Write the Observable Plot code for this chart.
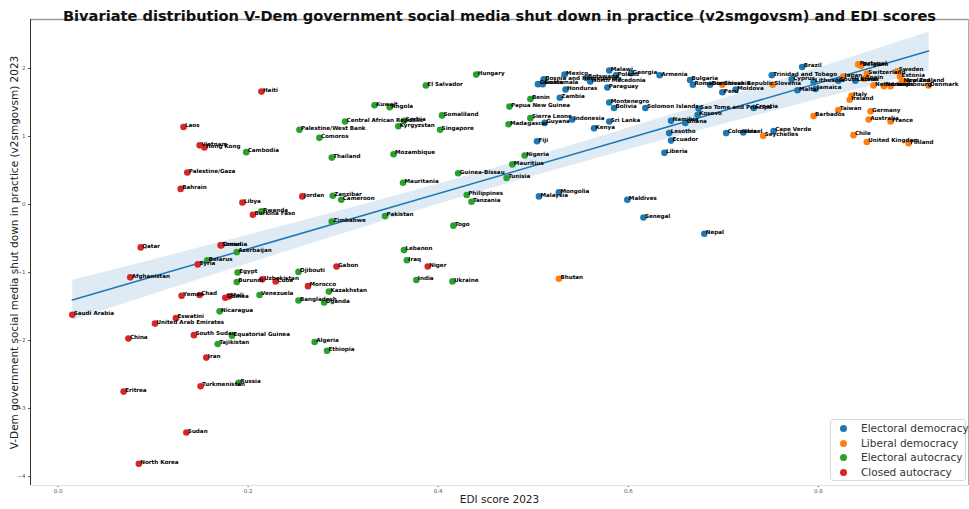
<!DOCTYPE html>
<html><head><meta charset="utf-8">
<script src="https://cdn.jsdelivr.net/npm/d3@7"></script>
<script src="https://cdn.jsdelivr.net/npm/@observablehq/plot@0.6"></script>
<style>
body{margin:0;background:#fff;font-family:"DejaVu Sans",sans-serif;}
#wrap{position:relative;width:969px;height:509px;overflow:hidden;}
#legend{position:absolute;left:830px;top:419px;width:134px;height:60px;border:1px solid #d8d8d8;border-radius:3px;background:rgba(255,255,255,0.85);font:10.5px "DejaVu Sans",sans-serif;color:#333;}
.li{position:absolute;left:0;height:14px;line-height:14px;white-space:nowrap;}
.li span.d{position:absolute;left:9px;top:4px;width:7px;height:7px;border-radius:50%;}
.li span.t{position:absolute;left:30px;top:0;}
</style></head><body><div id="wrap"></div>
<script>
const regimeTypes = ["Electoral democracy","Liberal democracy","Electoral autocracy","Closed autocracy"];
const regimeColors = ["#1f77b4","#ff7f0e","#2ca02c","#d62728"];
const xTicks = [0,0.2,0.4,0.6,0.8];
const yTicks = [-4,-3,-2,-1,0,1,2];
const xDomain = [-0.029,0.958];
const yDomain = [-4.13,2.72];

const countries = ["Laos","Vietnam","Hong Kong","Palestine/Gaza","Cambodia","Haiti","Kuwait","Angola","El Salvador","Hungary",
"Somaliland","Singapore","Central African Republic","Serbia","Kyrgyzstan","Palestine/West Bank","Comoros","Thailand","Mozambique","Guinea-Bissau",
"Benin","Papua New Guinea","Sierra Leone","Madagascar","Guyana","Indonesia","Fiji","Nigeria","Mauritius","Tunisia",
"Mexico","Bosnia and Herzegovina","Guatemala","Gambia","Honduras","Zambia","Malawi","Poland","Georgia","Armenia",
"Bulgaria","Romania","North Macedonia","Botswana","Paraguay","Montenegro","Bolivia","Solomon Islands","Sri Lanka","Kenya",
"Sao Tome and Principe","Kosovo","Namibia","Ghana","Lesotho","Ecuador","Liberia","Peru","Colombia","Moldova",
"Brazil","Trinidad and Tobago","Malta","Jamaica","Croatia","Israel","Cape Verde","Seychelles","Barbados","Taiwan",
"Italy","Ireland","Germany","Australia","France","Chile","United Kingdom","Finland","Portugal","Denmark",
"Luxembourg","Sweden","Switzerland","Dominican Republic","Slovakia","Slovenia","Cyprus","Lithuania","Japan","South Korea",
"Latvia","Spain","Netherlands","Norway","Estonia","New Zealand","Iceland","Belgium",
"Bahrain","Libya","Qatar","Somalia","Oman","Azerbaijan","Belarus","Syria","Afghanistan","Egypt",
"Burundi","Yemen","Chad","Guinea","Mali","Saudi Arabia","Eswatini","United Arab Emirates","Nicaragua","China",
"South Sudan","Equatorial Guinea","Tajikistan","Iran","Russia","Turkmenistan","Eritrea","Sudan","North Korea","Rwanda",
"Burkina Faso","Jordan","Zanzibar","Cameroon","Mauritania","Zimbabwe","Pakistan","Philippines","Tanzania","Togo",
"Lebanon","Iraq","Niger","India","Ukraine","Gabon","Djibouti","Uzbekistan","Cuba","Morocco",
"Kazakhstan","Venezuela","Bangladesh","Uganda","Algeria","Ethiopia","Malaysia","Mongolia","Maldives","Senegal",
"Nepal","Bhutan"];

const edi = [0.132,0.149,0.154,0.136,0.198,0.214,0.333,0.349,0.387,0.440,
0.404,0.402,0.302,0.364,0.358,0.254,0.275,0.288,0.353,0.421,
0.497,0.475,0.497,0.474,0.512,0.541,0.504,0.491,0.478,0.472,
0.533,0.511,0.510,0.505,0.534,0.528,0.580,0.587,0.603,0.633,
0.665,0.668,0.560,0.556,0.578,0.580,0.585,0.618,0.580,0.564,
0.674,0.673,0.645,0.660,0.643,0.645,0.638,0.699,0.703,0.713,
0.783,0.751,0.778,0.797,0.732,0.721,0.753,0.742,0.795,0.821,
0.835,0.833,0.855,0.853,0.876,0.837,0.851,0.895,0.842,0.916,
0.876,0.883,0.851,0.686,0.699,0.752,0.772,0.795,0.826,0.821,
0.839,0.848,0.858,0.869,0.886,0.888,0.892,0.845,
0.129,0.194,0.087,0.171,0.172,0.188,0.157,0.147,0.076,0.189,
0.188,0.130,0.149,0.176,0.180,0.015,0.124,0.102,0.170,0.074,
0.143,0.183,0.168,0.156,0.190,0.150,0.069,0.135,0.085,0.214,
0.205,0.257,0.289,0.298,0.363,0.288,0.344,0.430,0.435,0.416,
0.364,0.367,0.389,0.377,0.415,0.293,0.253,0.215,0.229,0.263,
0.285,0.212,0.253,0.280,0.270,0.283,0.506,0.527,0.599,0.616,
0.680,0.527];

const smgov = [1.14,0.87,0.84,0.47,0.77,1.66,1.46,1.43,1.75,1.91,
1.31,1.10,1.22,1.23,1.15,1.10,0.98,0.69,0.74,0.46,
1.55,1.44,1.27,1.18,1.20,1.25,0.93,0.72,0.59,0.39,
1.91,1.84,1.77,1.77,1.69,1.57,1.97,1.90,1.93,1.90,
1.83,1.76,1.81,1.86,1.72,1.50,1.42,1.42,1.22,1.12,
1.41,1.32,1.23,1.20,1.05,0.94,0.76,1.65,1.05,1.69,
2.02,1.90,1.68,1.70,1.42,1.06,1.08,1.01,1.30,1.39,
1.60,1.54,1.37,1.25,1.22,1.02,0.92,0.90,2.06,1.75,
1.74,1.96,1.92,1.76,1.76,1.76,1.84,1.80,1.88,1.82,
1.82,1.85,1.75,1.74,1.88,1.81,1.80,2.04,
0.23,0.03,-0.63,-0.60,-0.60,-0.70,-0.82,-0.88,-1.07,-1.00,
-1.14,-1.34,-1.33,-1.37,-1.35,-1.62,-1.67,-1.75,-1.57,-1.97,
-1.92,-1.93,-2.05,-2.25,-2.62,-2.67,-2.75,-3.35,-3.81,-0.10,
-0.15,0.12,0.13,0.07,0.32,-0.25,-0.17,0.14,0.04,-0.31,
-0.67,-0.82,-0.91,-1.11,-1.13,-0.91,-0.99,-1.10,-1.13,-1.20,
-1.28,-1.33,-1.41,-1.44,-2.02,-2.15,0.12,0.18,0.07,-0.19,
-0.43,-1.09];

// 0 Electoral democracy, 1 Liberal democracy, 2 Electoral autocracy, 3 Closed autocracy
const regime = [3,3,3,3,2,3,2,2,2,2,
2,2,2,2,2,2,2,2,2,2,
2,2,2,2,0,0,0,2,2,2,
0,0,0,0,0,0,0,0,0,0,
0,0,0,0,0,0,0,0,0,0,
0,0,0,0,0,0,0,0,0,0,
0,0,0,0,0,0,0,1,1,1,
1,1,1,1,1,1,1,1,1,1,
1,1,1,0,1,1,0,0,1,0,
0,1,1,1,1,1,1,1,
3,3,3,3,3,2,2,3,3,2,
2,3,3,3,3,3,3,3,2,3,
3,2,2,3,2,3,3,3,3,2,
3,3,2,2,2,2,2,2,2,2,
2,2,3,2,2,3,2,3,3,3,
2,2,2,2,2,2,0,0,0,0,
0,1];

const data = countries.map((c,i)=>({country:c, x:edi[i], y:smgov[i], regime:regimeTypes[regime[i]]}));

const chart = Plot.plot({
  width:969, height:509,
  marginLeft:30, marginRight:1, marginTop:19, marginBottom:24,
  style:{fontFamily:"'DejaVu Sans', sans-serif", fontSize:"5.5px", color:"#555", background:"#fff", overflow:"visible"},
  x:{domain:xDomain, ticks:xTicks, tickFormat:d3.format(".1f"), tickSize:2, tickPadding:2, label:null},
  y:{domain:yDomain, ticks:yTicks, tickFormat:d=>d3.format("d")(d), tickSize:2, tickPadding:3, label:null},
  color:{domain:regimeTypes, range:regimeColors},
  marks:[
    Plot.ruleY([yDomain[0]],{stroke:"#e0e0e0",strokeWidth:1}),
    Plot.ruleY([yDomain[1]],{stroke:"#999",strokeWidth:1.6}),
    Plot.ruleX([xDomain[0]],{stroke:"#333",strokeWidth:1}),
    Plot.ruleX([xDomain[1]],{stroke:"#aaa",strokeWidth:1}),
    Plot.linearRegressionY(data,{x:"x",y:"y",stroke:"#1f77b4",fill:"#1f77b4",fillOpacity:0.15,strokeWidth:1.5,ci:0.95}),
    Plot.dot(data,{x:"x",y:"y",fill:"regime",r:3.3}),
    Plot.text(data,{x:"x",y:"y",text:"country",textAnchor:"start",dx:1.5,dy:-1.5,fontWeight:"bold",fontSize:5.6,fill:"#000"}),
    Plot.text(["Bivariate distribution V-Dem government social media shut down in practice (v2smgovsm) and EDI scores"],
      {frameAnchor:"top",dy:-9,fontSize:14.6,fontWeight:"bold",fill:"#111"}),
    Plot.text(["EDI score 2023"],{frameAnchor:"bottom",dy:17,fontSize:10.5,fill:"#222"}),
    Plot.text(["V-Dem government social media shut down in practice (v2smgovsm) 2023"],
      {frameAnchor:"left",textAnchor:"middle",dx:-16,rotate:-90,fontSize:10.5,fill:"#222"})
  ]
});
document.getElementById("wrap").appendChild(chart);

const lg = document.createElement("div");
lg.id = "legend";
regimeTypes.forEach((t,i)=>{
  const row = document.createElement("div");
  row.className = "li";
  row.style.top = (1 + i*14.6) + "px";
  const d = document.createElement("span"); d.className="d"; d.style.background = regimeColors[i];
  const s = document.createElement("span"); s.className="t"; s.textContent = t;
  row.appendChild(d); row.appendChild(s); lg.appendChild(row);
});
document.getElementById("wrap").appendChild(lg);
</script>
</body></html>
